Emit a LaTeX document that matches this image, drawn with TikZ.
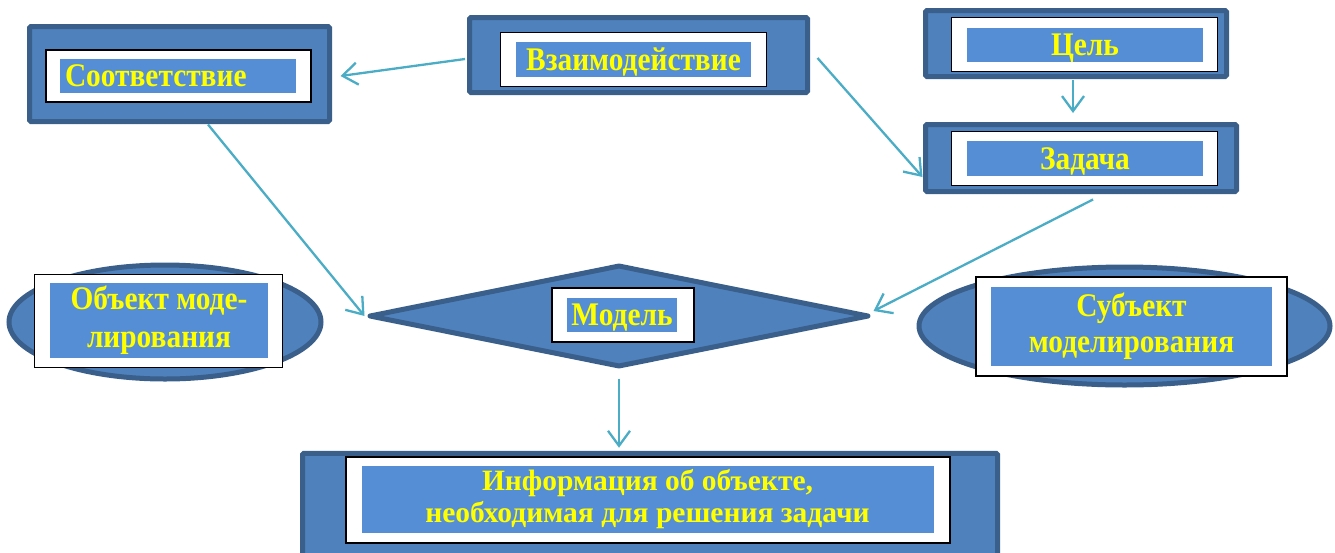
\documentclass[tikz,border=0pt]{standalone}
\usepackage{fontspec}
\setmainfont{Liberation Serif}
\newfontfamily\condfont{Liberation Serif}[FakeStretch=0.89]
\usetikzlibrary{arrows.meta,shapes.geometric,calc}
\definecolor{boxfill}{HTML}{4F81BD}
\definecolor{boxline}{HTML}{3A5F8B}
\definecolor{txtbg}{HTML}{558ED5}
\definecolor{arrcol}{HTML}{4BACC6}
\definecolor{txtcol}{HTML}{FFFF00}
\begin{document}
\begin{tikzpicture}[x=1pt,y=-1pt,
  outerbox/.style={draw=boxline,fill=boxfill,line width=5pt,rounded corners=1.5pt,inner sep=0pt},
  whitebox/.style={draw=black,fill=white,line width=1.3pt,inner sep=0pt},
  lbl/.style={fill=txtbg,text=txtcol,font=\condfont\bfseries\fontsize{33}{38}\selectfont,inner sep=0pt,align=center},
  oneline/.style={text height=24pt,text depth=2.5pt},
  oval/.style={ellipse,draw=boxline,fill=boxfill,line width=5pt,inner sep=0pt},
  rhomb/.style={diamond,draw=boxline,fill=boxfill,line width=5pt,line join=round,inner sep=0pt},
  conn/.style={draw=arrcol,line width=2.3pt,-{Straight Barb[length=15pt,width=22pt]}}
]
\useasboundingbox (0,0) rectangle (1335,552);

% Соответствие
\node[outerbox,minimum width=300pt,minimum height=95pt] (soot) at (179.5,74) {};
\node[whitebox,minimum width=265pt,minimum height=52pt] (sootw) at (178.5,76) {};
\node[lbl,oneline,text width=226pt,align=left,inner xsep=5pt,minimum height=34pt] (soott) at (178,76) {Соответствие};

% Взаимодействие
\node[outerbox,minimum width=338pt,minimum height=75pt] (vzaim) at (638.5,55) {};
\node[whitebox,minimum width=266pt,minimum height=54pt] (vzaimw) at (633.5,59.5) {};
\node[lbl,oneline,minimum width=235pt,minimum height=35pt] (vzaimt) at (633.5,59.5) {Взаимодействие};

% Цель
\node[outerbox,minimum width=301pt,minimum height=66pt] (cel) at (1076,43.5) {};
\node[whitebox,minimum width=266pt,minimum height=54pt] (celw) at (1084.5,44.5) {};
\node[lbl,oneline,minimum width=236pt,minimum height=34pt] (celt) at (1085,45) {Цель};

% Задача
\node[outerbox,minimum width=311pt,minimum height=67pt] (zad) at (1081,158) {};
\node[whitebox,minimum width=266pt,minimum height=54pt] (zadw) at (1084.5,158.5) {};
\node[lbl,oneline,minimum width=236pt,minimum height=35pt] (zadt) at (1085,158.5) {Задача};

% Объект моделирования
\node[oval,minimum width=312pt,minimum height=114pt] (obj) at (165,322) {};
\node[whitebox,minimum width=248pt,minimum height=93pt] (objw) at (158.5,321) {};
\node[lbl,minimum width=218pt,minimum height=75pt] (objt) at (159,320.5) {Объект моде-\\лирования};

% Модель
\node[rhomb,minimum width=500pt,minimum height=102pt] (model) at (619,316) {};
\node[whitebox,minimum width=142pt,minimum height=54pt] (modelw) at (623,315) {};
\node[lbl,oneline,minimum width=110pt,minimum height=34pt] (modelt) at (622,315) {Модель};

% Субъект моделирования
\node[oval,minimum width=411pt,minimum height=118pt] (subj) at (1124.5,326) {};
\node[whitebox,minimum width=311pt,minimum height=99pt] (subjw) at (1131.5,326.5) {};
\node[lbl,minimum width=281pt,minimum height=79pt,font=\condfont\bfseries\fontsize{33}{36}\selectfont] (subjt) at (1131.5,326.5) {Субъект\\моделирования};

% Информация
\node[outerbox,minimum width=695pt,minimum height=107pt] (info) at (650,506.75) {};
\node[whitebox,minimum width=604pt,minimum height=86pt] (infow) at (648,500) {};
\node[lbl,minimum width=572pt,minimum height=67pt,font=\bfseries\fontsize{29.5}{32}\selectfont] (infot) at (647.5,499.5) {Информация об объекте,\\необходимая для решения задачи};

% connectors
\draw[conn] ($(vzaim.west)+(-2,4)$) -- ($(soot.east)+(8.5,2)$);
\draw[conn] ($(vzaim.east)+(7.5,3)$) -- ($(zad.west)+(-0.5,19)$);
\draw[conn] ($(cel.south)+(-3,1)$) -- ($(zad.north)+(-8,-9)$);
\draw[conn] ($(soot.south)+(28.5,0.5)$) -- ($(model.west)+(-2,0)$);
\draw[conn] ($(zad.south)+(12,5.5)$) -- ($(model.east)+(2,-5)$);
\draw[conn] ($(model.south)+(0,9)$) -- ($(model.south |- info.north)+(0,-3)$);
\end{tikzpicture}
\end{document}
